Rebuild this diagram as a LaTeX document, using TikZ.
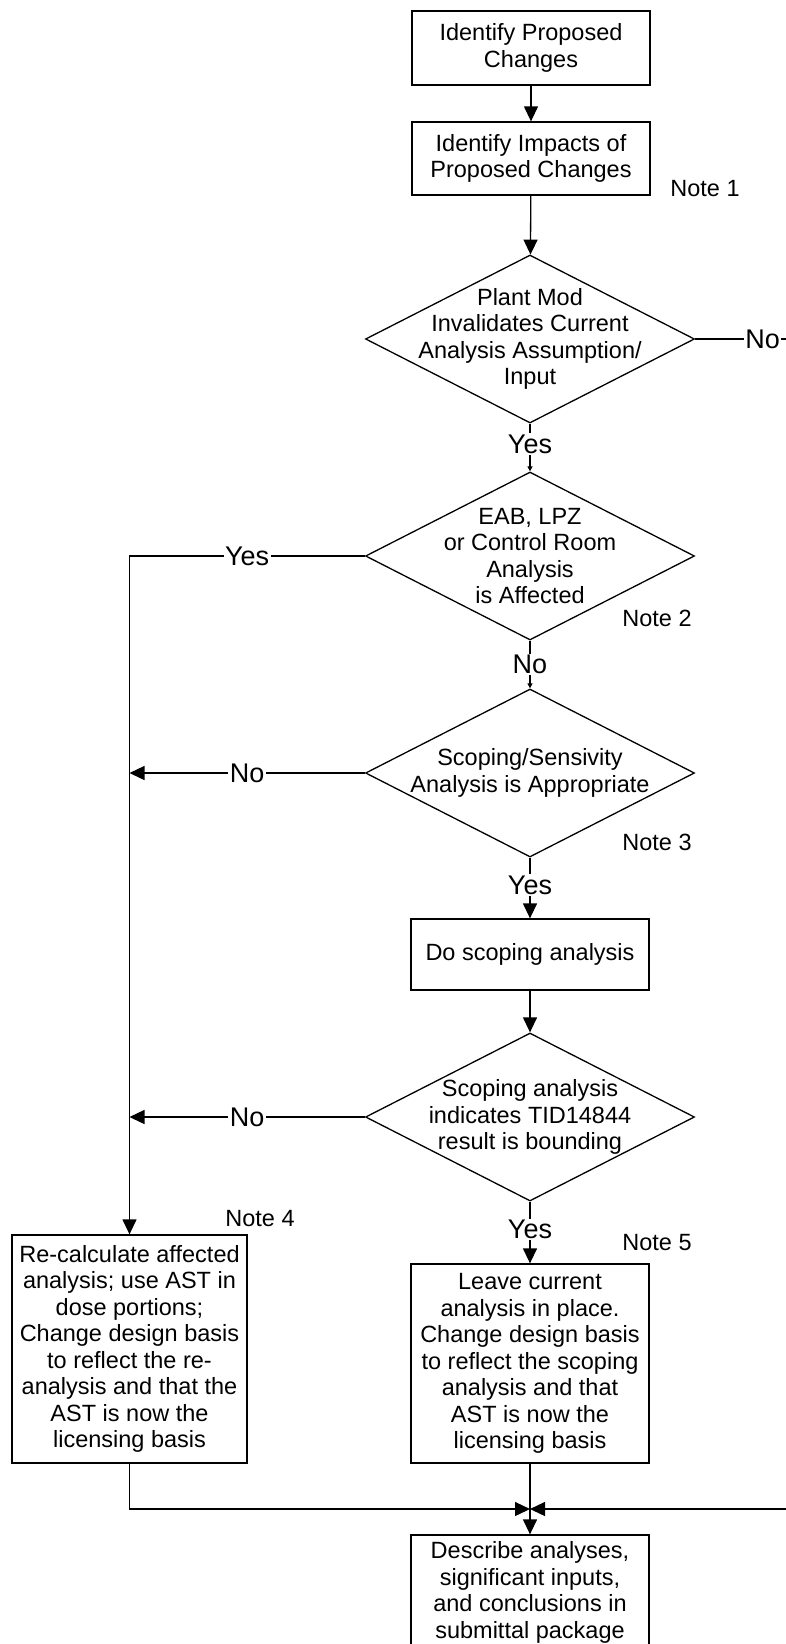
\documentclass[tikz,border=0pt]{standalone}
\usepackage{fontspec}
\setmainfont{Liberation Sans}
\usetikzlibrary{shapes.geometric,arrows.meta}
\begin{document}
\begin{tikzpicture}[x=1pt,y=-1pt,line width=1.3pt,>={Triangle[length=15pt,width=14pt]},font=\fontsize{23.5}{26.5}\selectfont,
		box/.style={draw,align=center,minimum width=238pt,inner sep=2pt},
		decision/.style={draw,diamond,minimum width=329pt,minimum height=168pt,inner sep=0pt},
		lbl/.style={fill=white,inner sep=1.5pt,font=\fontsize{27}{29}\selectfont},
		smalltip/.style={-{Triangle[length=5pt,width=5pt]}}]
	\useasboundingbox (0,0) rectangle (786,1644);
	\clip (0,0) rectangle (786,1644);
	\node[box,minimum height=74pt] (ident) at (531,48) {Identify Proposed\\Changes};
	\node[box,minimum height=73pt] (impact) at (531,158.5) {Identify Impacts of\\Proposed Changes};
	\node[decision,label={[align=center]center:{Plant Mod\\Invalidates Current\\Analysis Assumption/\\Input}}] (plant) at (530,339) {};
	\node[decision,label={[align=center]center:{EAB, LPZ\\or Control Room\\Analysis\\is Affected}}] (eab) at (530,556) {};
	\node[decision,label={[align=center]center:{Scoping/Sensivity\\Analysis is Appropriate}}] (appr) at (530,773) {};
	\node[box,minimum height=71pt] (scope) at (530,954.5) {Do scoping analysis};
	\node[decision,label={[align=center]center:{Scoping analysis\\indicates TID14844\\result is bounding}}] (bound) at (530,1117) {};
	\node[box,minimum width=235pt,minimum height=228pt] (recalc) at (129.5,1349) {Re-calculate affected\\analysis; use AST in\\dose portions;\\Change design basis\\to reflect the re-\\analysis and that the\\AST is now the\\licensing basis};
	\node[box,minimum height=199pt] (leave) at (530,1363.5) {Leave current\\analysis in place.\\Change design basis\\to reflect the scoping\\analysis and that\\AST is now the\\licensing basis};
	\node[box,minimum height=115pt] (submit) at (530,1592.5) {Describe analyses,\\significant inputs,\\and conclusions in\\submittal package};
	\node (n1) at (705,189) {Note 1};
	\node (n2) at (657,618) {Note 2};
	\node (n3) at (657,842) {Note 3};
	\node (n4) at (260,1219) {Note 4};
	\node (n5) at (657,1243) {Note 5};
	\coordinate (join) at (530,1509);
	\coordinate (edgeno) at (830,339);
	\coordinate (edgein) at (800,1509);
	\draw[->] (ident) -- (impact);
	\draw[->] (impact) -- (plant);
	\draw[smalltip] (plant) -- node[lbl,pos=0.43]{Yes} (eab);
	\draw (plant.east) -- node[lbl]{No} (edgeno);
	\draw[smalltip] (eab) -- node[lbl]{No} (appr);
	\draw[->] (eab.west) -| node[lbl,pos=0.25]{Yes} (recalc.north);
	\draw[->] (appr) -- node[lbl,pos=0.45]{Yes} (scope);
	\draw[->] (appr.west) -- node[lbl]{No} (recalc.north |- appr.west);
	\draw[->] (scope) -- (bound);
	\draw[->] (bound.west) -- node[lbl]{No} (recalc.north |- bound.west);
	\draw[->] (bound) -- node[lbl,pos=0.45]{Yes} (leave);
	\draw[->] (recalc.south) |- (join);
	\draw[->] (edgein) -- (join);
	\draw[->] (leave) -- (submit);
\end{tikzpicture}
\end{document}
